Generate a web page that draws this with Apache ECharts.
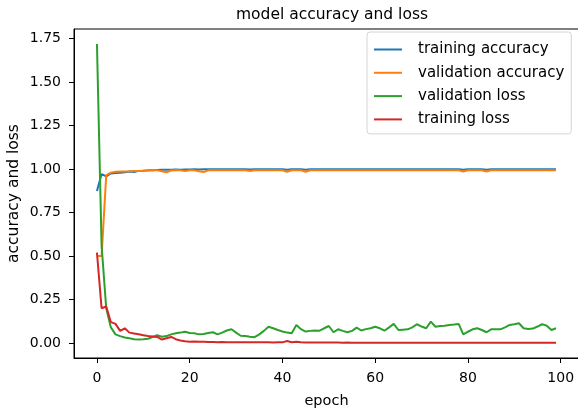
<!DOCTYPE html>
<html>
<head>
<meta charset="utf-8">
<script src="https://cdn.jsdelivr.net/npm/echarts@6/dist/echarts.min.js"></script>
<style>
  html, body { margin: 0; padding: 0; background: #fff; }
  #chart { width: 578px; height: 412px; }
</style>
</head>
<body>
<div id="chart"></div>
<script>
// 每个 epoch 的数值
const trainAcc = [
    0.875, 0.972, 0.958, 0.975, 0.978, 0.980, 0.982, 0.986, 0.984, 0.990,
    0.991, 0.993, 0.994, 0.995, 0.996, 0.997, 0.997, 0.998, 0.997, 0.998,
    0.998, 0.999, 0.998, 0.999, 0.999, 0.999, 1.000, 0.999, 0.999, 1.000,
    0.999, 1.000, 0.999, 0.998, 1.000, 1.000, 0.999, 1.000, 1.000, 0.999,
    1.000, 0.997, 0.999, 1.000, 1.000, 0.997, 1.000, 1.000, 0.999, 1.000,
    1.000, 1.000, 0.999, 1.000, 1.000, 1.000, 1.000, 0.999, 1.000, 1.000,
    1.000, 1.000, 1.000, 0.999, 1.000, 1.000, 1.000, 1.000, 1.000, 1.000,
    0.999, 1.000, 1.000, 1.000, 1.000, 1.000, 1.000, 1.000, 1.000, 0.997,
    1.000, 1.000, 1.000, 1.000, 0.997, 1.000, 1.000, 1.000, 1.000, 1.000,
    1.000, 1.000, 1.000, 1.000, 1.000, 1.000, 1.000, 1.000, 1.000, 1.000
]
const valAcc = [
    0.500, 0.500, 0.965, 0.980, 0.985, 0.986, 0.987, 0.988, 0.990, 0.990,
    0.991, 0.992, 0.993, 0.993, 0.988, 0.982, 0.992, 0.993, 0.993, 0.989,
    0.993, 0.993, 0.988, 0.984, 0.993, 0.994, 0.994, 0.994, 0.994, 0.994,
    0.994, 0.994, 0.994, 0.990, 0.994, 0.994, 0.994, 0.994, 0.994, 0.994,
    0.994, 0.984, 0.994, 0.994, 0.994, 0.985, 0.994, 0.994, 0.994, 0.994,
    0.994, 0.994, 0.994, 0.994, 0.994, 0.994, 0.994, 0.994, 0.994, 0.994,
    0.994, 0.994, 0.994, 0.994, 0.994, 0.994, 0.994, 0.994, 0.994, 0.994,
    0.994, 0.994, 0.994, 0.994, 0.994, 0.994, 0.994, 0.994, 0.994, 0.986,
    0.994, 0.994, 0.994, 0.994, 0.987, 0.994, 0.994, 0.994, 0.994, 0.994,
    0.994, 0.994, 0.994, 0.994, 0.994, 0.994, 0.994, 0.994, 0.994, 0.994
]
const valLoss = [
    1.720, 0.560, 0.200, 0.090, 0.050, 0.040, 0.032, 0.027, 0.022, 0.020,
    0.022, 0.025, 0.035, 0.045, 0.036, 0.040, 0.050, 0.056, 0.060, 0.065,
    0.058, 0.056, 0.050, 0.052, 0.058, 0.062, 0.050, 0.060, 0.072, 0.079,
    0.060, 0.042, 0.040, 0.036, 0.034, 0.050, 0.070, 0.094, 0.085, 0.075,
    0.066, 0.060, 0.056, 0.104, 0.080, 0.066, 0.070, 0.072, 0.071, 0.085,
    0.098, 0.062, 0.079, 0.070, 0.062, 0.070, 0.089, 0.072, 0.080, 0.085,
    0.094, 0.085, 0.071, 0.090, 0.110, 0.075, 0.077, 0.079, 0.090, 0.108,
    0.095, 0.085, 0.123, 0.094, 0.098, 0.100, 0.104, 0.106, 0.110, 0.050,
    0.065, 0.079, 0.085, 0.075, 0.062, 0.079, 0.080, 0.079, 0.090, 0.104,
    0.108, 0.114, 0.085, 0.081, 0.083, 0.095, 0.108, 0.100, 0.075, 0.085
]
const trainLoss = [
    0.520, 0.200, 0.210, 0.120, 0.110, 0.070, 0.085, 0.060, 0.055, 0.050,
    0.045, 0.040, 0.038, 0.035, 0.020, 0.028, 0.035, 0.022, 0.015, 0.010,
    0.008, 0.009, 0.007, 0.008, 0.006, 0.006, 0.005, 0.006, 0.005, 0.005,
    0.005, 0.004, 0.005, 0.004, 0.004, 0.004, 0.004, 0.004, 0.003, 0.004,
    0.004, 0.012, 0.005, 0.008, 0.004, 0.003, 0.003, 0.003, 0.003, 0.003,
    0.003, 0.003, 0.003, 0.002, 0.003, 0.002, 0.002, 0.002, 0.002, 0.002,
    0.002, 0.002, 0.002, 0.002, 0.002, 0.002, 0.002, 0.002, 0.002, 0.002,
    0.002, 0.002, 0.002, 0.002, 0.002, 0.002, 0.002, 0.002, 0.002, 0.002,
    0.002, 0.002, 0.002, 0.002, 0.002, 0.002, 0.002, 0.002, 0.002, 0.002,
    0.002, 0.002, 0.002, 0.002, 0.002, 0.002, 0.002, 0.002, 0.002, 0.002
]
const xTicks = [0, 20, 40, 60, 80, 100]
const yTicks = [0, 0.25, 0.5, 0.75, 1.0, 1.25, 1.5, 1.75]
const seriesNames = ['training accuracy', 'validation accuracy', 'validation loss', 'training loss']
const seriesColors = ['#1f77b4', '#ff7f0e', '#2ca02c', '#d62728']

;(function () {
    const chart = echarts.init(document.getElementById('chart'))
    const font = 'DejaVu Sans'
    const seriesValues = [trainAcc, valAcc, valLoss, trainLoss]

    const series = seriesNames.map((name, k) => ({
        name: name,
        type: 'line',
        showSymbol: false,
        symbol: 'none',
        animation: false,
        color: seriesColors[k],
        lineStyle: { width: 2, color: seriesColors[k] },
        data: seriesValues[k].map((v, i) => [i, v])
    }))

    const option = {
        animation: false,
        title: {
            text: 'model accuracy and loss',
            left: 327,
            top: 2,
            textAlign: 'center',
            textStyle: { fontFamily: font, fontSize: 15.5, fontWeight: 'normal', color: '#000' }
        },
        legend: {
            orient: 'vertical',
            left: 367,
            top: 32,
            icon: 'rect',
            itemWidth: 28,
            itemHeight: 2,
            itemGap: 8.3,
            padding: [10, 7, 7, 7],
            backgroundColor: '#fff',
            borderColor: '#d4d4d4',
            borderWidth: 1,
            borderRadius: 3,
            textStyle: { fontFamily: font, fontSize: 15, color: '#000', padding: [0, 0, 0, 11], lineHeight: 14 },
            data: seriesNames
        },
        grid: {
            left: 74,
            top: 29,
            width: 505,
            height: 329,
            containLabel: false,
            outerBoundsMode: 'none',
            show: true,
            borderColor: '#000',
            borderWidth: 1,
            backgroundColor: 'transparent'
        },
        xAxis: {
            type: 'value',
            min: -4.95,
            max: 103.95,
            name: 'epoch',
            nameLocation: 'middle',
            nameGap: 36,
            nameTextStyle: { fontFamily: font, fontSize: 14.5, color: '#000' },
            axisLine: { show: true, onZero: false, lineStyle: { color: '#000', width: 1 } },
            axisTick: { show: true, inside: false, length: 5, customValues: xTicks, lineStyle: { color: '#000' } },
            axisLabel: { customValues: xTicks, margin: 13, fontFamily: font, fontSize: 14, color: '#000' },
            splitLine: { show: false }
        },
        yAxis: {
            type: 'value',
            min: -0.086,
            max: 1.806,
            name: 'accuracy and loss',
            nameLocation: 'middle',
            nameGap: 52,
            nameMoveOverlap: false,
            nameTextStyle: { fontFamily: font, fontSize: 15.5, color: '#000' },
            axisLine: { show: true, onZero: false, lineStyle: { color: '#000', width: 1 } },
            axisTick: { show: true, inside: false, length: 5, customValues: yTicks, lineStyle: { color: '#000' } },
            axisLabel: {
                customValues: yTicks,
                margin: 13,
                fontFamily: font,
                fontSize: 14,
                color: '#000',
                formatter: v => v.toFixed(2)
            },
            splitLine: { show: false }
        },
        series: series
    }

    chart.setOption(option)
    window.addEventListener('resize', () => {
        chart.resize()
    })
})()
</script>
</body>
</html>
